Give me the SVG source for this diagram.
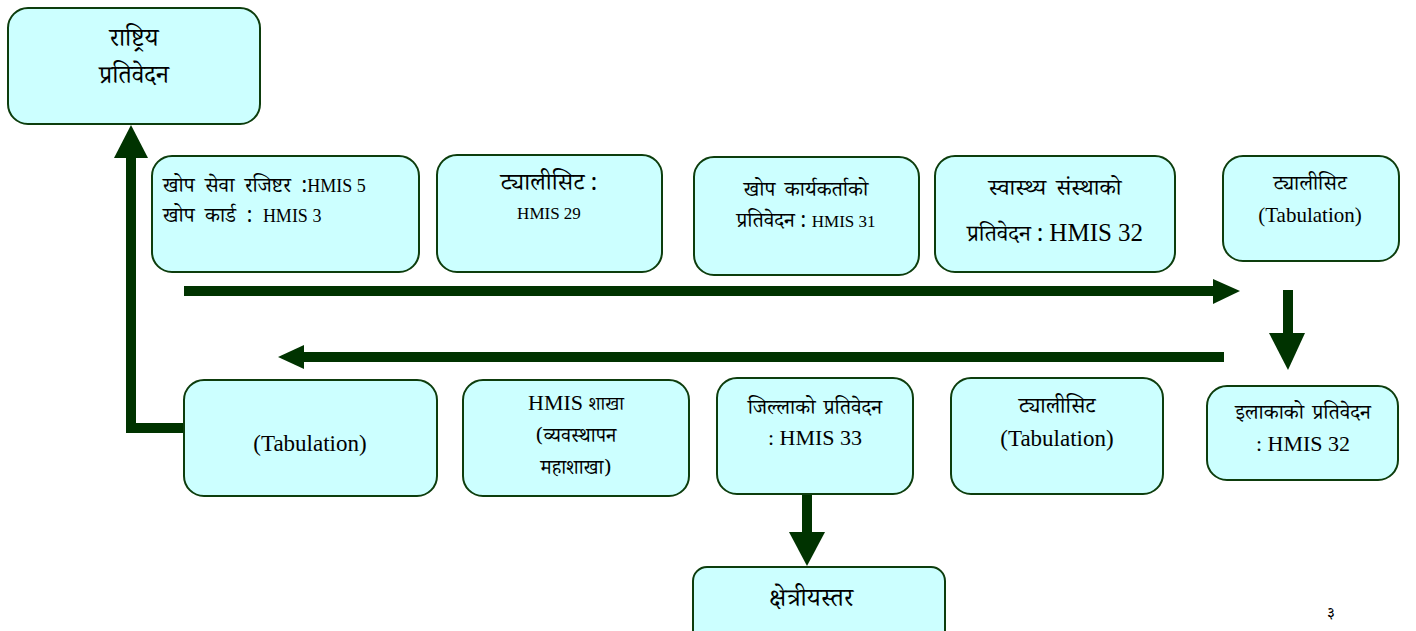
<svg xmlns="http://www.w3.org/2000/svg" width="1416" height="631" viewBox="0 0 1416 631">
<defs>
<style>
.box{fill:#ccffff;stroke:#0d3d0d;stroke-width:2}
.t{font-family:"Noto Serif Devanagari","FreeSerif","Lohit Devanagari","Noto Sans Devanagari","Liberation Serif",serif;fill:#000;text-anchor:middle}
.l{text-anchor:start}
.c{fill:none;stroke:#003300;stroke-width:10}
.h{fill:#003300}
</style>
</defs>
<rect width="1416" height="631" fill="#fff"/>
<g id="connectors">
<line class="c" x1="184" y1="291" x2="1215" y2="291"/>
<polygon class="h" points="1213,279 1240,291 1213,304"/>
<line class="c" x1="1224" y1="357" x2="302" y2="357"/>
<polygon class="h" points="304,345 278,357 304,369"/>
<line class="c" x1="1288" y1="290" x2="1288" y2="340"/>
<polygon class="h" points="1269,333 1288,370 1305,333"/>
<polyline class="c" points="185,428 131,428 131,155"/>
<polygon class="h" points="114,158 131,125 148,158"/>
<line class="c" x1="807" y1="494" x2="807" y2="535"/>
<polygon class="h" points="789,532 807,566 825,532"/>
</g>
<g id="n1"><rect class="box" x="8" y="8" width="252" height="116" rx="20"/>
<text class="t" x="134" y="46" font-size="25">राष्ट्रिय</text>
<text class="t" x="134" y="83" font-size="25">प्रतिवेदन</text></g>
<g id="n2"><rect class="box" x="152" y="156" width="267" height="116" rx="20"/>
<text class="t l" x="163" y="192" font-size="21" word-spacing="5">खोप सेवा रजिष्टर :<tspan style="font-family:'Liberation Serif',serif" font-size="18" word-spacing="0">HMIS 5</tspan></text>
<text class="t l" x="163" y="222" font-size="21" word-spacing="5">खोप कार्ड : <tspan style="font-family:'Liberation Serif',serif" font-size="18" word-spacing="0">HMIS 3</tspan></text></g>
<g id="n3"><rect class="box" x="437" y="155" width="225" height="117" rx="20"/>
<text class="t" x="549" y="190" font-size="24">ट्यालीसिट :</text>
<text x="549" y="219" font-size="17" text-anchor="middle" style="font-family:'Liberation Serif',serif">HMIS 29</text></g>
<g id="n4"><rect class="box" x="694" y="157" width="225" height="118" rx="20"/>
<text class="t" x="806" y="196" font-size="21" word-spacing="4">खोप कार्यकर्ताको</text>
<text class="t" x="806" y="227" font-size="21">प्रतिवेदन : <tspan style="font-family:'Liberation Serif',serif" font-size="17">HMIS 31</tspan></text></g>
<g id="n5"><rect class="box" x="935" y="156" width="240" height="116" rx="20"/>
<text class="t" x="1055" y="195" font-size="23" word-spacing="4">स्वास्थ्य संस्थाको</text>
<text class="t" x="1055" y="241" font-size="23">प्रतिवेदन : <tspan style="font-family:'Liberation Serif',serif" font-size="25">HMIS 32</tspan></text></g>
<g id="n6"><rect class="box" x="1223" y="156" width="176" height="105" rx="20"/>
<text class="t" x="1310" y="190" font-size="21">ट्यालीसिट</text>
<text x="1310" y="222" font-size="21" text-anchor="middle" style="font-family:'Liberation Serif',serif">(Tabulation)</text></g>
<g id="n7"><rect class="box" x="184" y="380" width="253" height="116" rx="20"/>
<text x="310" y="451" font-size="23" text-anchor="middle" style="font-family:'Liberation Serif',serif">(Tabulation)</text></g>
<g id="n8"><rect class="box" x="463" y="380" width="226" height="116" rx="20"/>
<text class="t" x="576" y="410" font-size="19"><tspan style="font-family:'Liberation Serif',serif" font-size="22">HMIS </tspan>शाखा</text>
<text class="t" x="576" y="442" font-size="20">(व्यवस्थापन</text>
<text class="t" x="576" y="474" font-size="20">महाशाखा)</text></g>
<g id="n9"><rect class="box" x="717" y="378" width="196" height="116" rx="20"/>
<text class="t" x="815" y="414" font-size="21" word-spacing="3">जिल्लाको प्रतिवेदन</text>
<text x="815" y="445" font-size="22" text-anchor="middle" style="font-family:'Liberation Serif',serif">: HMIS 33</text></g>
<g id="n10"><rect class="box" x="951" y="378" width="212" height="116" rx="20"/>
<text class="t" x="1057" y="413" font-size="22">ट्यालीसिट</text>
<text x="1057" y="446" font-size="23" text-anchor="middle" style="font-family:'Liberation Serif',serif">(Tabulation)</text></g>
<g id="n11"><rect class="box" x="1207" y="386" width="191" height="94" rx="20"/>
<text class="t" x="1303" y="419" font-size="21" word-spacing="3">इलाकाको प्रतिवेदन</text>
<text x="1303" y="451" font-size="22" text-anchor="middle" style="font-family:'Liberation Serif',serif">: HMIS 32</text></g>
<g id="n12"><rect class="box" x="693" y="567" width="252" height="80" rx="14"/>
<text class="t" x="811" y="606" font-size="25">क्षेत्रीयस्तर</text></g>
<text class="t" x="1331" y="618" font-size="16">३</text>
</svg>
